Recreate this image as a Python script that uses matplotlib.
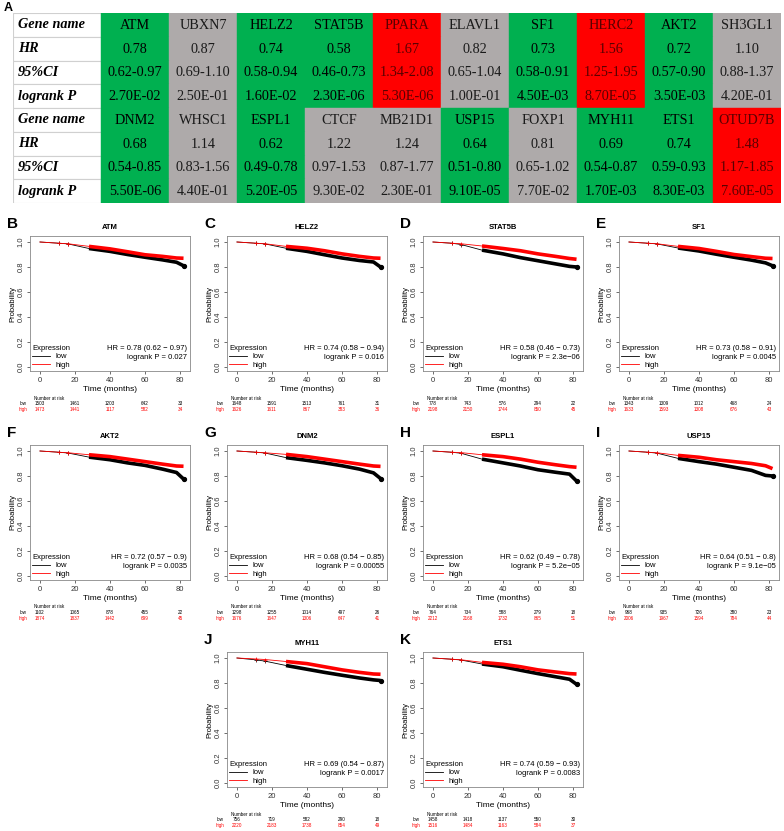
import numpy as np
import matplotlib.pyplot as plt
from matplotlib.patches import Rectangle

plt.rcParams['font.family'] = ['Liberation Sans', 'DejaVu Sans']

W, H = 784, 831

# ---- panel A table ----
row_labels = ["Gene name", "HR", "95%CI", "logrank P"]

genes_1 = ["ATM", "UBXN7", "HELZ2", "STAT5B", "PPARA", "ELAVL1", "SF1", "HERC2", "AKT2", "SH3GL1"]
hr_1 = ["0.78", "0.87", "0.74", "0.58", "1.67", "0.82", "0.73", "1.56", "0.72", "1.10"]
ci_1 = ["0.62-0.97", "0.69-1.10", "0.58-0.94", "0.46-0.73", "1.34-2.08",
        "0.65-1.04", "0.58-0.91", "1.25-1.95", "0.57-0.90", "0.88-1.37"]
p_1 = ["2.70E-02", "2.50E-01", "1.60E-02", "2.30E-06", "5.30E-06",
       "1.00E-01", "4.50E-03", "8.70E-05", "3.50E-03", "4.20E-01"]
sig_1 = ["low", "ns", "low", "low", "high", "ns", "low", "high", "low", "ns"]

genes_2 = ["DNM2", "WHSC1", "ESPL1", "CTCF", "MB21D1", "USP15", "FOXP1", "MYH11", "ETS1", "OTUD7B"]
hr_2 = ["0.68", "1.14", "0.62", "1.22", "1.24", "0.64", "0.81", "0.69", "0.74", "1.48"]
ci_2 = ["0.54-0.85", "0.83-1.56", "0.49-0.78", "0.97-1.53", "0.87-1.77",
        "0.51-0.80", "0.65-1.02", "0.54-0.87", "0.59-0.93", "1.17-1.85"]
p_2 = ["5.50E-06", "4.40E-01", "5.20E-05", "9.30E-02", "2.30E-01",
       "9.10E-05", "7.70E-02", "1.70E-03", "8.30E-03", "7.60E-05"]
sig_2 = ["low", "ns", "low", "ns", "ns", "low", "ns", "low", "low", "high"]

# ---- KM panels ----
letters = ["B", "C", "D", "E", "F", "G", "H", "I", "J", "K"]
km_genes = ["ATM", "HELZ2", "STAT5B", "SF1", "AKT2", "DNM2", "ESPL1", "USP15", "MYH11", "ETS1"]
km_hr = ["0.78 (0.62 \u2212 0.97)", "0.74 (0.58 \u2212 0.94)", "0.58 (0.46 \u2212 0.73)",
         "0.73 (0.58 \u2212 0.91)", "0.72 (0.57 \u2212 0.9)", "0.68 (0.54 \u2212 0.85)",
         "0.62 (0.49 \u2212 0.78)", "0.64 (0.51 \u2212 0.8)", "0.69 (0.54 \u2212 0.87)",
         "0.74 (0.59 \u2212 0.93)"]
km_p = ["0.027", "0.016", "2.3e\u221206", "0.0045", "0.0035", "0.00055",
        "5.2e\u221205", "9.1e\u221205", "0.0017", "0.0083"]

risk_times = [0, 20, 40, 60, 80]
risk_low = [[1503, 1461, 1203, 642, 33], [1648, 1591, 1513, 761, 31], [778, 743, 576, 294, 22],
            [1343, 1309, 1012, 468, 24], [1102, 1065, 878, 455, 22], [1298, 1255, 1014, 497, 26],
            [764, 734, 588, 279, 18], [968, 935, 726, 380, 23], [756, 719, 582, 290, 18],
            [1458, 1418, 1137, 550, 30]]
risk_high = [[1473, 1441, 1117, 582, 34], [1626, 1611, 867, 383, 36], [2198, 2150, 1744, 850, 45],
             [1633, 1593, 1308, 676, 43], [1874, 1837, 1442, 699, 45], [1676, 1647, 1306, 647, 41],
             [2212, 2168, 1732, 865, 51], [2006, 1967, 1594, 784, 44], [2220, 2183, 1738, 854, 49],
             [1516, 1484, 1163, 584, 37]]

# survival (months)
surv_t = [0, 11, 16, 28, 40, 50, 60, 70, 78, 82]
surv_low = [
    [1, 0.99, 0.985, 0.948, 0.925, 0.90, 0.878, 0.857, 0.838, 0.81],
    [1, 0.99, 0.985, 0.950, 0.925, 0.898, 0.872, 0.852, 0.840, 0.80],
    [1, 0.99, 0.980, 0.935, 0.905, 0.875, 0.850, 0.825, 0.805, 0.80],
    [1, 0.99, 0.985, 0.952, 0.928, 0.902, 0.878, 0.855, 0.833, 0.81],
    [1, 0.99, 0.984, 0.951, 0.930, 0.905, 0.885, 0.855, 0.828, 0.776],
    [1, 0.99, 0.984, 0.947, 0.925, 0.905, 0.882, 0.855, 0.825, 0.78],
    [1, 0.99, 0.982, 0.935, 0.905, 0.880, 0.850, 0.830, 0.815, 0.76],
    [1, 0.99, 0.983, 0.941, 0.915, 0.895, 0.870, 0.845, 0.805, 0.80],
    [1, 0.985, 0.975, 0.940, 0.910, 0.885, 0.862, 0.840, 0.825, 0.82],
    [1, 0.99, 0.984, 0.952, 0.930, 0.902, 0.875, 0.850, 0.830, 0.79],
]
surv_high = [
    [1, 0.99, 0.986, 0.965, 0.945, 0.922, 0.898, 0.885, 0.872, 0.87],
    [1, 0.99, 0.986, 0.965, 0.950, 0.930, 0.905, 0.885, 0.872, 0.87],
    [1, 0.99, 0.986, 0.968, 0.948, 0.930, 0.905, 0.885, 0.868, 0.862],
    [1, 0.99, 0.986, 0.965, 0.948, 0.925, 0.900, 0.883, 0.870, 0.868],
    [1, 0.99, 0.986, 0.970, 0.955, 0.935, 0.915, 0.895, 0.880, 0.878],
    [1, 0.99, 0.986, 0.973, 0.955, 0.935, 0.915, 0.895, 0.880, 0.877],
    [1, 0.99, 0.987, 0.970, 0.955, 0.935, 0.910, 0.890, 0.875, 0.87],
    [1, 0.99, 0.986, 0.965, 0.950, 0.930, 0.915, 0.900, 0.882, 0.859],
    [1, 0.992, 0.988, 0.972, 0.955, 0.930, 0.905, 0.885, 0.872, 0.87],
    [1, 0.99, 0.986, 0.965, 0.950, 0.930, 0.905, 0.888, 0.875, 0.872],
]

sig_color = {"low": "#00B050", "ns": "#AEAAAA", "high": "#FF0000"}
text_color = {"low": "black", "ns": "#1a1a1a", "high": "#5a0000"}

fig = plt.figure(figsize=(W / 100, H / 100), dpi=100)


def add_px_axes(x0, y0, x1, y1):
    return fig.add_axes([x0 / W, 1 - y1 / H, (x1 - x0) / W, (y1 - y0) / H])


# ---------- table ----------
fig.text(4 / W, 1 - 8 / H, "A", fontsize=9, fontweight="bold", va="center")
tx0, ty0, tx1, ty1 = 13, 13, 781, 203
ax_t = add_px_axes(tx0, ty0, tx1, ty1)
ax_t.set_xlim(0, tx1 - tx0)
ax_t.set_ylim(ty1 - ty0, 0)
ax_t.axis("off")
lab_w, cell_w = 88, 68
row_h = (ty1 - ty0) / 8
serif = ["Liberation Serif", "DejaVu Serif"]

blocks = [(genes_1, hr_1, ci_1, p_1, sig_1), (genes_2, hr_2, ci_2, p_2, sig_2)]
for b, (g, hr, ci, pv, sg) in enumerate(blocks):
    for r, vals in enumerate([g, hr, ci, pv]):
        rr = b * 4 + r
        y = rr * row_h
        ax_t.add_patch(Rectangle((0, y), lab_w, row_h, facecolor="white",
                                 edgecolor="#d0d0d0", lw=0.8))
        ax_t.text(5, y + row_h / 2, row_labels[r], family=serif, fontsize=10.3,
                  fontweight="bold", fontstyle="italic", va="center", ha="left")
        for c, v in enumerate(vals):
            x = lab_w + c * cell_w
            ax_t.add_patch(Rectangle((x, y), cell_w, row_h, facecolor=sig_color[sg[c]],
                                     edgecolor=sig_color[sg[c]], lw=0.3))
            ax_t.text(x + cell_w / 2, y + row_h / 2 + 0.5, v, family=serif, fontsize=10.3,
                      color=text_color[sg[c]], va="center", ha="center")

# ---------- KM panels ----------
col_off = [0, 197, 393, 589]
row_top = [236, 445, 652]
grid_pos = [(0, 0), (1, 0), (2, 0), (3, 0), (0, 1), (1, 1), (2, 1), (3, 1), (1, 2), (2, 2)]

for i, (c, r) in enumerate(grid_pos):
    off = col_off[c]
    top = row_top[r]
    ax = add_px_axes(30 + off, top, 190 + off, top + 135)
    t = np.array(surv_t)
    lo = np.array(surv_low[i])
    hi = np.array(surv_high[i])

    # thin early part, dense censoring band afterwards
    ax.plot(t[:4], lo[:4], color="black", lw=0.6, marker="+", ms=2.5, mew=0.5,
            markevery=[1, 2], label="low")
    ax.plot(t[:4], hi[:4], color="red", lw=0.6, marker="+", ms=2.5, mew=0.5,
            markevery=[1, 2], label="high")
    ax.plot(t[3:], lo[3:], color="black", lw=2.6, solid_capstyle="butt")
    ax.plot(t[3:], hi[3:], color="red", lw=2.6, solid_capstyle="butt")
    ax.plot(t[-1], lo[-1], marker="o", ms=2.8, color="black")

    ax.set_xlim(-5.7, 85.7)
    ax.set_ylim(-0.032, 1.048)
    ax.set_xticks([0, 20, 40, 60, 80])
    ax.set_yticks([0, 0.2, 0.4, 0.6, 0.8, 1.0])
    ax.set_yticklabels(["0.0", "0.2", "0.4", "0.6", "0.8", "1.0"], rotation=90, va="center")
    ax.tick_params(labelsize=5.5, length=2.5, width=0.5, pad=1.5, colors="#333333")
    for s in ax.spines.values():
        s.set_color("#888888")
        s.set_linewidth(0.6)
    ax.set_xlabel("Time (months)", fontsize=6, labelpad=1.5)
    ax.set_ylabel("Probability", fontsize=5.5, labelpad=1)
    ax.set_title(km_genes[i], fontsize=5.5, fontweight="bold", pad=5)

    leg = ax.legend(title="Expression", loc="lower left", frameon=False, fontsize=5.5,
                    title_fontsize=5.5, handlelength=2.3, handletextpad=0.8,
                    labelspacing=0.15, borderaxespad=0.1, borderpad=0.2,
                    alignment="left", markerscale=0)
    for line in leg.get_lines():
        line.set_linewidth(0.6)
        line.set_marker("")

    ax.text(84, 0.145, "HR = " + km_hr[i], fontsize=5.5, ha="right", va="center")
    ax.text(84, 0.075, "logrank P = " + km_p[i], fontsize=5.5, ha="right", va="center")

    trans = ax.get_xaxis_transform()
    ax.text(-3.4, -0.2, "Number at risk", fontsize=3.3, transform=trans,
            ha="left", va="center", clip_on=False)
    ax.text(-7.4, -0.24, "low", fontsize=3.3, transform=trans, ha="right", va="center")
    ax.text(-7.4, -0.283, "high", fontsize=3.3, color="red", transform=trans,
            ha="right", va="center")
    for k, tt in enumerate(risk_times):
        ax.text(tt, -0.24, str(risk_low[i][k]), fontsize=3.3, transform=trans,
                ha="center", va="center")
        ax.text(tt, -0.283, str(risk_high[i][k]), fontsize=3.3, color="red",
                transform=trans, ha="center", va="center")

    fig.text((off + 7) / W, 1 - (top - 12) / H, letters[i], fontsize=11,
             fontweight="bold", va="center", ha="left")

fig.savefig("out.png", dpi=100)
